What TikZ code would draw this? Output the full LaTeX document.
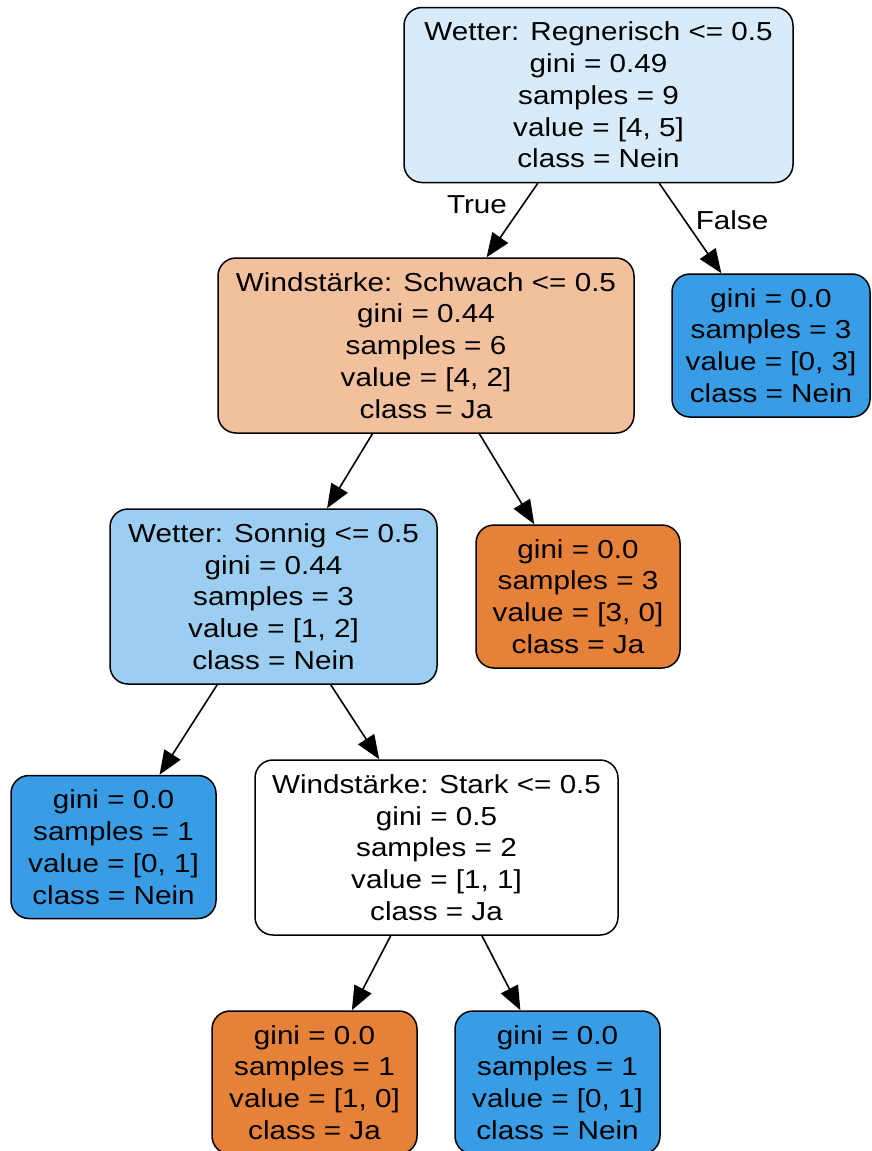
\documentclass[tikz,border=0pt]{standalone}
\usepackage{fontspec}
\setmainfont{Liberation Sans}[FakeStretch=1.14]
\usetikzlibrary{arrows.meta}
\definecolor{cOrange}{HTML}{E58139}
\definecolor{cBlue}{HTML}{399DE5}
\definecolor{cRoot}{HTML}{D7EBFA}
\definecolor{cPeach}{HTML}{F2C09C}
\definecolor{cLightBlue}{HTML}{9CCEF2}
\begin{document}
\begin{tikzpicture}[x=1pt,y=1pt,
  box/.style={draw=black, line width=1.5pt, rounded corners=18pt, align=center, inner sep=0pt, font=\fontsize{26}{31.8}\selectfont},
  split/.style={box, minimum height=175pt},
  leaf/.style={box, minimum height=143pt, minimum width=205pt},
  edge/.style={line width=1.6pt, -{Triangle[length=24pt,width=19pt]}},
  lbl/.style={font=\fontsize{26}{31.8}\selectfont, inner sep=0pt}]
\useasboundingbox (0,0) rectangle (871,-1151);
\node[split, minimum width=389pt, fill=cRoot] (root) at (598.5,-95) {Wetter: Regnerisch <= 0.5\\gini = 0.49\\samples = 9\\value = [4, 5]\\class = Nein};
\node[split, minimum width=416pt, fill=cPeach] (n2) at (426,-345.5) {Windstärke: Schwach <= 0.5\\gini = 0.44\\samples = 6\\value = [4, 2]\\class = Ja};
\node[leaf, minimum width=198pt, fill=cBlue] (l1) at (771,-345.5) {gini = 0.0\\samples = 3\\value = [0, 3]\\class = Nein};
\node[split, minimum width=327pt, fill=cLightBlue] (n3) at (273.5,-596.5) {Wetter: Sonnig <= 0.5\\gini = 0.44\\samples = 3\\value = [1, 2]\\class = Nein};
\node[leaf, minimum width=204pt, fill=cOrange] (l2) at (578,-596.5) {gini = 0.0\\samples = 3\\value = [3, 0]\\class = Ja};
\node[leaf, fill=cBlue] (l3) at (113.5,-847) {gini = 0.0\\samples = 1\\value = [0, 1]\\class = Nein};
\node[split, minimum width=363pt, fill=white] (n4) at (436.5,-847.5) {Windstärke: Stark <= 0.5\\gini = 0.5\\samples = 2\\value = [1, 1]\\class = Ja};
\node[leaf, fill=cOrange] (l4) at (314.5,-1082.5) {gini = 0.0\\samples = 1\\value = [1, 0]\\class = Ja};
\node[leaf, fill=cBlue] (l5) at (557.5,-1082.5) {gini = 0.0\\samples = 1\\value = [0, 1]\\class = Nein};
\node[lbl] (tlabel) at (477,-205) {True};
\node[lbl] (flabel) at (732,-220) {False};
\draw[edge] (root) -- (n2);
\draw[edge] (root) -- (l1);
\draw[edge] (n2) -- (n3);
\draw[edge] (n2) -- (l2);
\draw[edge] (n3) -- (l3);
\draw[edge] (n3) -- (n4);
\draw[edge] (n4) -- (l4);
\draw[edge] (n4) -- (l5);
\end{tikzpicture}
\end{document}
